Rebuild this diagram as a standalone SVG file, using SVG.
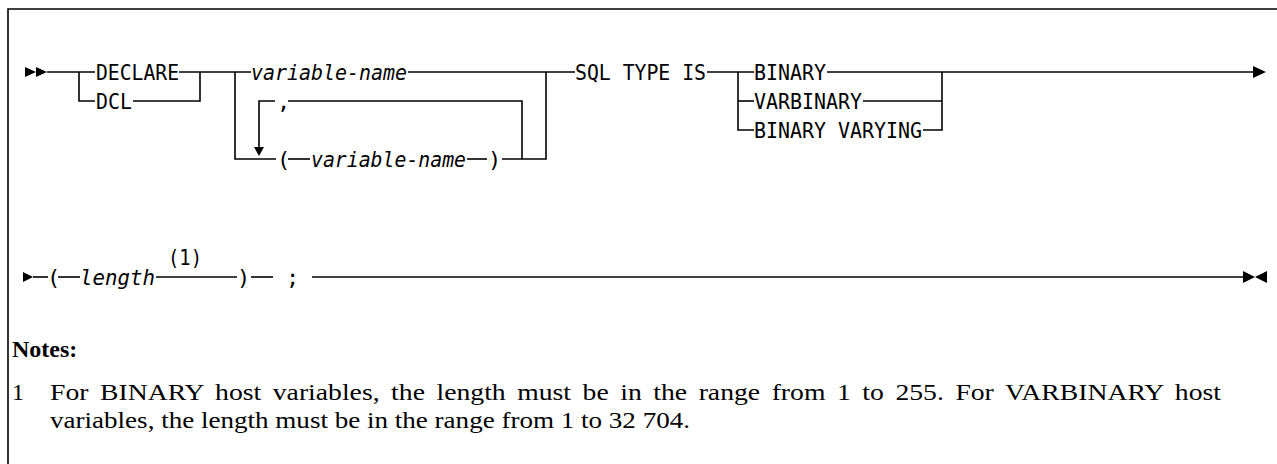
<svg xmlns="http://www.w3.org/2000/svg" width="1277" height="464" viewBox="0 0 1277 464">
<style>
.ln{stroke:#000;stroke-width:1.6;fill:none}
.t{font-family:"DejaVu Sans Mono","Liberation Mono",monospace;font-size:22px;fill:#000}
.i{font-style:italic}
.n{font-family:"Liberation Serif","DejaVu Serif",serif;font-size:24px;fill:#000}
.b{font-weight:bold}
.ar{fill:#000;stroke:none}
</style>
<rect width="1277" height="464" fill="#fff"/>
<path class="ln" d="M8,470 V9 H1290"/>
<g id="connectors">
<polygon class="ar" points="25,67 36,72 25,77"/>
<polygon class="ar" points="36,67 47,72 36,77"/>
<path class="ln" d="M47,72 H95"/>
<path class="ln" d="M79,72 V101 H95"/>
<path class="ln" d="M179,72 H251"/>
<path class="ln" d="M133,101 H200 V72"/>
<path class="ln" d="M235,72 V159 H276"/>
<path class="ln" d="M408,72 H575"/>
<path class="ln" d="M259,147 V101 H275"/>
<polygon class="ar" points="254,147 264,147 259,156"/>
<path class="ln" d="M288,101 H522 V159"/>
<path class="ln" d="M288,159 H310"/>
<path class="ln" d="M467,159 H487"/>
<path class="ln" d="M502,159 H546 V72"/>
<path class="ln" d="M707,72 H754"/>
<path class="ln" d="M738,72 V130 H754"/>
<path class="ln" d="M738,101 H754"/>
<path class="ln" d="M827,72 H1254"/>
<path class="ln" d="M863,101 H942"/>
<path class="ln" d="M923,130 H942 V72"/>
<polygon class="ar" points="1253,66 1266,72 1253,78"/>
<polygon class="ar" points="23,272 33,277 23,282"/>
<path class="ln" d="M33,277 H48"/>
<path class="ln" d="M58,277 H80"/>
<path class="ln" d="M156,277 H237"/>
<path class="ln" d="M251,277 H273"/>
<path class="ln" d="M312,277 H1244"/>
<polygon class="ar" points="1243,271 1255,277 1243,283"/>
<polygon class="ar" points="1267,271 1255,277 1267,283"/>
</g>
<g id="declare"><text class="t" x="96" y="80" textLength="83" lengthAdjust="spacingAndGlyphs">DECLARE</text></g>
<g id="dcl"><text class="t" x="96" y="109" textLength="36" lengthAdjust="spacingAndGlyphs">DCL</text></g>
<g id="variable-name-1"><text class="t i" x="251" y="80" textLength="156" lengthAdjust="spacingAndGlyphs">variable-name</text></g>
<g id="comma"><text class="t" x="277" y="109">,</text></g>
<g id="variable-name-list">
<text class="t" x="277" y="167">(</text>
<text class="t i" x="311" y="167" textLength="155" lengthAdjust="spacingAndGlyphs">variable-name</text>
<text class="t" x="488" y="167">)</text>
</g>
<g id="sql-type-is"><text class="t" x="575" y="80" textLength="131" lengthAdjust="spacingAndGlyphs">SQL TYPE IS</text></g>
<g id="binary"><text class="t" x="754" y="80" textLength="72" lengthAdjust="spacingAndGlyphs">BINARY</text></g>
<g id="varbinary"><text class="t" x="754" y="109" textLength="108" lengthAdjust="spacingAndGlyphs">VARBINARY</text></g>
<g id="binary-varying"><text class="t" x="754" y="138" textLength="168" lengthAdjust="spacingAndGlyphs">BINARY VARYING</text></g>
<g id="length">
<text class="t" x="47" y="285">(</text>
<text class="t i" x="80" y="285" textLength="75" lengthAdjust="spacingAndGlyphs">length</text>
<text class="t" x="168" y="265" textLength="34" lengthAdjust="spacingAndGlyphs">(1)</text>
<text class="t" x="237" y="285">)</text>
<text class="t" x="286" y="285">;</text>
</g>
<g id="notes">
<text class="n b" x="12" y="357">Notes:</text>
<text class="n" x="12" y="400">1</text>
<text class="n" x="50" y="400" word-spacing="4" textLength="1171" lengthAdjust="spacingAndGlyphs">For BINARY host variables, the length must be in the range from 1 to 255. For VARBINARY host</text>
<text class="n" x="50" y="428" textLength="640" lengthAdjust="spacingAndGlyphs">variables, the length must be in the range from 1 to 32 704.</text>
</g>
</svg>
